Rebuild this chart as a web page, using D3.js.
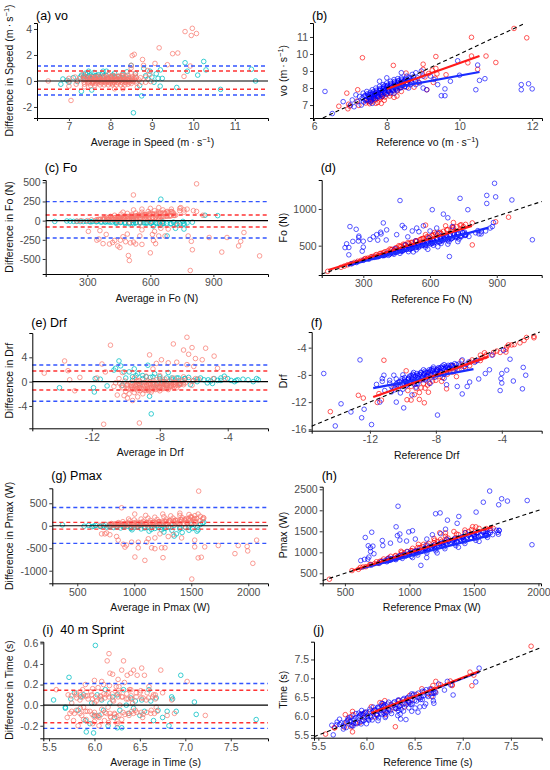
<!DOCTYPE html>
<html>
<head>
<meta charset="utf-8">
<script src="https://cdn.jsdelivr.net/npm/d3@7"></script>
<style>
  body { margin: 0; background: #fff; }
  svg text { font-family: "Liberation Sans", Arial, sans-serif; }
</style>
</head>
<body>
<div id="chart"></div>
<script>
// pairs are [reference, measured]; red = app method, blue = other method
var voRed = [[6.68,6.93],[6.93,6.78],[6.98,6.93],[6.95,7.05],[7.23,6.98],[7.18,7.23],[7.53,7.08],[6.9,7.7],[7.5,7.2],[7.75,7.15],[7.6,7.4],[7.2,7.9],[7.93,7.28],[7.85,7.45],[7.9,7.6],[8.08,7.53],[8.28,7.53],[8.05,7.85],[8.28,7.83],[8.4,7.8],[8.38,8.03],[8.55,8.05],[8.75,8.05],[8.55,8.35],[9.1,7.9],[8.88,8.33],[8.53,8.88],[8.18,9.33],[9.28,8.33],[9.05,8.65],[8.98,8.83],[9.33,8.58],[9.15,8.85],[9.0,9.1],[9.38,8.83],[9.25,9.05],[9.0,9.4],[9.63,8.78],[9.35,9.15],[9.35,9.85],[10.5,9.1],[10.23,9.48],[10.33,9.88],[11.0,9.5],[10.73,9.88],[10.33,10.98],[11.85,10.95],[11.5,11.5],[7.33,9.78],[8.2,8.1],[7.7,7.7],[7.7,7.1],[7.85,7.1],[8.2,7.45],
  [7.42,7.12],[7.48,7.25],[7.56,7.18],[7.62,7.33],[7.68,7.29],[7.74,7.42],[7.81,7.36],[7.88,7.51],[7.95,7.47],[8.02,7.66],[8.11,7.68],[8.18,7.87],[8.26,7.94],[8.35,8.12],[8.44,8.17]];
var voBlue = [[7.05,7.3],[7.1,6.9],[7.15,7.6],[7.2,7.2],[7.25,7.5],[7.3,7.0],[7.35,7.7],[7.4,7.3],[7.45,7.8],[7.5,7.5],[7.55,7.2],[7.6,7.9],[7.6,7.6],[7.65,7.4],[7.7,8.0],[7.7,7.7],[7.75,7.5],[7.8,8.1],[7.8,7.85],[7.85,7.6],[7.9,8.2],[7.9,7.95],[7.95,7.7],[8.0,8.3],[8.0,8.05],[8.05,7.8],[8.1,8.4],[8.1,8.1],[8.15,7.85],[8.2,8.5],[8.2,8.2],[8.25,7.95],[8.3,8.55],[8.3,8.3],[8.35,8.0],[8.4,8.6],[8.45,8.35],[8.5,8.1],[8.55,8.7],[8.6,8.45],[8.65,8.2],[8.7,8.8],[8.75,8.5],[8.8,8.9],[8.85,8.6],[8.9,8.3],[8.95,9.0],[9.0,8.7],[8.0,8.6],[7.8,8.4],[8.4,8.9],[8.2,7.7],[7.6,7.1],[8.6,8.0],
  [7.32,7.41],[7.36,7.18],[7.41,7.57],[7.44,7.33],[7.47,7.66],[7.53,7.42],[7.56,7.61],[7.57,7.27],[7.63,7.78],[7.65,7.52],[7.67,7.63],[7.69,7.38],[7.71,7.87],[7.73,7.58],[7.77,7.74],[7.79,7.47],[7.81,7.97],[7.83,7.69],[7.87,7.86],[7.88,7.52],[7.91,8.08],[7.93,7.81],[7.97,7.93],[7.99,7.63],[8.03,8.17],[8.04,7.88],[8.07,8.04],[8.09,7.72],[8.11,8.27],[8.13,7.98],[8.17,8.13],[8.19,7.83],[8.21,8.38],[8.23,8.09],[8.27,8.22],[8.29,7.88],[8.31,8.43],[8.33,8.18],[8.37,8.33],[8.39,8.02],[8.41,8.52],[8.43,8.27],[8.47,8.43],[8.49,8.07],[8.53,8.57],[8.57,8.31],[8.61,8.62],[8.67,8.37],[8.73,8.66],[8.79,8.42],
  [7.38,7.52],[7.43,7.26],[7.46,7.49],[7.51,7.63],[7.54,7.35],[7.58,7.47],[7.61,7.69],[7.64,7.43],[7.66,7.57],[7.72,7.81],[7.74,7.51],[7.76,7.66],[7.82,7.91],[7.84,7.62],[7.86,7.77],[7.92,8.01],[7.94,7.73],[7.96,7.87],[8.01,8.12],[8.04,7.82],[8.06,7.97],[8.12,8.21],[8.14,7.92],[8.16,8.07],[8.22,8.31],[8.24,8.02],[8.26,8.16],[8.32,8.39],[8.34,8.11],[8.36,8.27],[8.42,8.46],[8.44,8.19],[8.46,8.36],[8.52,8.49],[8.54,8.24],[8.58,8.44],[8.63,8.53],[8.68,8.47],[7.55,7.75],[7.95,8.15],
  [6.3,7.8],[6.5,6.5],[6.8,7.2],[7.0,7.0],[9.5,7.55],[9.6,7.55],[9.6,7.95],[9.75,8.4],[9.95,9.6],[10.0,8.75],[10.45,7.9],[10.5,9.35],[10.55,8.45],[10.7,8.55],[11.7,7.9],[11.7,8.2],[11.9,8.25],[12.0,7.95],[9.4,8.2],[9.2,8.7],[9.0,8.0],[8.8,8.2],[9.1,7.9],[9.3,8.5]];

var foRed = [[140,150],[200,205],[230,240],[260,272],[290,300],[310,325],[340,352],[360,378],[390,405],[410,428],[430,450],[450,470],[470,490],[490,512],[505,530],[520,545],[540,565],[555,582],[570,600],[590,618],[610,640],[625,660],[640,675],[660,695],[680,720],[700,745],[720,760],[740,785],[760,790],[790,510],[895,825],[953,888],[705,815],[670,770],[580,780],[790,810],[620,680],[580,650],[540,560],[500,540],[460,500],[420,455],[380,395],[320,330],[600,620],[650,665],[700,720],[750,760],[480,520],[440,445],[560,590],[520,520],
  [215,222],[245,255],[275,287],[305,318],[335,349],[355,372],[375,393],[398,418],[425,446],[445,469],[465,492],[485,513],[515,544],[535,566],[565,596],[585,620],[615,650],[645,682],[675,715],[705,748],[735,778]];
var foBlue = [[390,370],[413,368],[405,395],[438,383],[435,405],[465,395],[448,433],[475,425],[503,418],[485,455],[510,450],[538,443],[510,490],[548,473],[543,498],[580,480],[573,508],[565,535],[615,505],[610,530],[605,555],[650,530],[645,555],[630,590],[685,555],[665,595],[693,588],[675,625],[730,590],[715,625],[740,620],[720,660],[775,625],[760,660],[755,685],[805,675],[815,705],[525,415],[590,450],[635,485],[680,520],[725,555],[368,353],[343,338],[300,300],[325,315],[248,253],[270,270],[535,565],[490,510],[443,458],[595,605],[635,665],
  [352,340],[372,355],[384,372],[396,366],[408,392],[418,380],[427,409],[436,399],[444,425],[452,414],[459,440],[466,421],[473,452],[481,436],[488,467],[494,448],[502,479],[509,459],[516,492],[522,470],[531,503],[537,482],[545,515],[551,493],[558,528],[566,505],[573,540],[579,515],[586,553],[593,528],[601,566],[608,538],[616,578],[622,552],[630,590],[637,560],[645,603],[652,574],[661,615],[668,585],[676,628],[684,596],[692,641],[701,608],[710,652],[719,622],[728,667],[738,636],[748,680],[760,650],
  [362,345],[388,362],[402,381],[421,391],[433,418],[447,410],[462,437],[474,430],[486,462],[497,452],[507,483],[519,466],[527,498],[539,478],[549,519],[561,498],[569,536],[582,505],[591,556],[603,522],[612,574],[619,540],[633,593],[641,548],[649,604],[657,566],[667,619],[679,580],[688,633],[697,598],[707,646],[716,610],[726,660],[736,625],[746,676],[756,640],[470,445],[530,510],[590,570],[650,630],
  [218,473],[235,475],[225,525],[253,558],[278,563],[300,560],[280,610],[280,630],[365,575],[403,578],[268,723],[240,760],[380,660],[378,683],[450,650],[405,715],[390,810],[485,745],[475,775],[540,740],[570,770],[235,375],[295,425],[300,480],[330,585],[345,620],[360,650],[500,620],[520,700],[550,690],[600,700],[630,740],[700,760],
  [465,1115],[610,990],[680,880],[770,990],[855,1075],[855,1185],[895,1165],[968,1123],[735,1145],[890,1350],[660,930],[1060,580],[687,352],
  [870,740],[850,700],[820,660],[880,760],[760,640],[830,660],[830,690],[885,815]];

var drfRed = [[-14.4,-13.4],[-12.4,-11.4],[-12.7,-11.0],[-11.55,-12.05],[-11.3,-11.7],[-11.45,-10.75],[-9.5,-11.7],[-8.7,-12.1],[-9.0,-11.6],[-9.3,-10.9],[-10.5,-9.9],[-9.0,-10.6],[-8.45,-10.55],[-8.65,-9.95],[-8.75,-9.25],[-7.35,-10.05],[-9.8,-7.4],[-11.15,-5.85],[-7.65,-8.95],[-7.75,-8.25],[-7.8,-7.8],[-6.75,-8.25],[-7.15,-7.45],[-6.7,-7.3],[-6.95,-6.65],[-6.25,-6.75],[-5.95,-6.65],[-5.9,-6.1],[-5.8,-5.8],[-5.3,-5.9],[-5.25,-5.55],[-5.3,-5.1],[-4.95,-5.05],[-4.55,-5.05],[-4.5,-4.7],[-4.1,-4.7],[-3.75,-4.65],[-3.75,-4.25],[-3.7,-3.9],[-3.6,-3.6],[-3.25,-3.55],[-2.9,-3.3],[-2.65,-2.95],[-2.5,-2.5],[-2.05,-2.55],[-2.05,-2.35],[-9.5,-9.7],[-9.35,-9.05],[-8.4,-9.2],[-8.45,-7.95],[-7.9,-7.3],[-6.45,-5.95],[-5.05,-4.75],[-9.75,-11.65],
  [-9.7,-10.3],[-9.2,-10.0],[-8.9,-9.9],[-8.5,-9.5],[-8.2,-8.9],[-8.0,-8.8],[-7.6,-8.4],[-7.3,-7.9],[-7.0,-7.6],[-6.6,-7.2],[-6.3,-6.8],[-5.6,-6.0],[-5.0,-5.3],[-4.3,-4.5],[-3.4,-3.6]];
var drfBlue = [[-10.7,-9.7],[-10.8,-9.2],[-10.15,-9.65],[-10.8,-8.8],[-10.3,-9.1],[-9.75,-9.45],[-10.4,-8.6],[-9.85,-8.95],[-10.05,-8.55],[-9.1,-9.3],[-9.65,-8.55],[-10.0,-8.0],[-9.2,-8.6],[-9.5,-8.1],[-8.65,-8.75],[-9.1,-8.1],[-9.35,-7.65],[-8.6,-8.2],[-8.9,-7.7],[-8.05,-8.35],[-8.5,-7.7],[-8.75,-7.25],[-8.05,-7.75],[-8.3,-7.3],[-7.5,-7.9],[-7.9,-7.3],[-8.15,-6.85],[-7.35,-7.45],[-7.7,-6.9],[-6.9,-7.5],[-7.3,-6.9],[-7.5,-6.5],[-6.8,-7.0],[-7.05,-6.55],[-6.2,-7.0],[-6.6,-6.4],[-6.15,-6.45],[-6.4,-5.8],[-5.65,-6.15],[-10.15,-10.65],[-10.7,-10.5],[-9.2,-9.8],[-8.35,-9.25],[-7.5,-8.5],[-11.25,-8.95],[-10.55,-8.05],
  [-10.4,-9.3],[-10.25,-9.6],[-10.1,-8.9],[-9.95,-9.2],[-9.9,-8.4],[-9.8,-9.05],[-9.7,-8.7],[-9.6,-8.2],[-9.55,-9.0],[-9.45,-8.4],[-9.4,-7.9],[-9.3,-8.75],[-9.25,-8.2],[-9.15,-7.8],[-9.05,-8.5],[-8.95,-8.0],[-8.9,-7.6],[-8.8,-8.3],[-8.7,-7.8],[-8.65,-7.45],[-8.55,-8.1],[-8.45,-7.6],[-8.4,-7.25],[-8.3,-7.95],[-8.2,-7.4],[-8.15,-7.1],[-8.0,-7.7],[-7.95,-7.2],[-7.85,-6.95],[-7.75,-7.45],[-7.65,-7.0],[-7.6,-6.7],[-7.45,-7.2],[-7.4,-6.75],[-7.25,-6.6],[-7.15,-7.0],[-7.0,-6.65],[-6.85,-6.35],[-9.6,-9.1],[-9.0,-8.85],[-8.6,-8.55],[-8.1,-8.05],[-7.7,-7.75],[-10.6,-9.9],[-10.0,-10.1],[-9.2,-9.3],
  [-10.35,-9.45],[-10.2,-9.0],[-10.05,-9.35],[-9.9,-8.75],[-9.75,-9.15],[-9.65,-8.45],[-9.5,-8.85],[-9.35,-8.05],[-9.25,-8.95],[-9.1,-8.35],[-9.0,-7.9],[-8.85,-8.45],[-8.75,-7.95],[-8.6,-7.65],[-8.5,-8.3],[-8.35,-7.55],[-8.25,-7.15],[-8.1,-7.85],[-7.95,-7.45],[-7.8,-7.05],[-7.7,-7.6],[-7.55,-7.05],[-7.4,-6.95],[-7.25,-7.1],[-7.1,-6.6],[-6.95,-6.85],[-6.75,-6.5],[-6.55,-6.7],[-9.8,-9.6],[-9.3,-9.4],[-8.8,-8.7],[-8.3,-8.45],[-7.85,-7.9],[-10.5,-10.2],
  [-14.1,-15.5],[-11.9,-15.3],[-12.5,-14.3],[-13.15,-13.45],[-12.35,-13.05],[-13.75,-12.25],[-11.4,-12.0],[-9.95,-12.85],[-10.4,-12.0],[-7.9,-13.9],[-11.1,-10.3],[-11.6,-9.4],[-9.45,-10.95],[-11.25,-8.55],[-11.15,-8.05],[-12.6,-5.8],[-14.8,-7.8],[-6.4,-10.8],[-6.7,-9.7],[-6.1,-9.7],[-5.95,-9.05],[-4.1,-10.3],[-5.4,-8.6],[-4.0,-9.2],[-2.75,-10.05],[-4.05,-8.55],[-3.3,-8.9],[-4.0,-7.8],[-3.7,-7.3],[-2.55,-8.05],[-2.7,-6.9],[-3.5,-5.7],[-5.0,-7.8],[-7.35,-9.45],[-4.75,-7.25],[-3.9,-4.4],[-4.6,-5.1],[-5.5,-5.9],[-6.0,-6.1]];

var pmaxRed = [[380,360],[555,565],[605,595],[620,640],[663,658],[693,708],[730,730],[745,775],[785,795],[800,840],[840,860],[855,905],[895,925],[935,945],[940,1000],[980,1020],[1020,1040],[1025,1095],[1065,1115],[1105,1135],[1110,1190],[1150,1210],[1190,1230],[1195,1285],[1240,1300],[1285,1315],[1280,1380],[1235,1465],[1280,1460],[1365,1435],[1345,1495],[1430,1470],[1430,1530],[1480,1540],[1490,1610],[1515,1605],[1595,1565],[1630,1570],[1650,1570],[1510,1490],[1355,1345],[1200,1200],[1055,1045],[908,893],[760,740],[1070,1190],[935,1025],[1190,1330],
  [640,650],[700,712],[770,785],[830,848],[890,912],[960,985],[1010,1038],[1080,1110],[1140,1172],[1220,1255],[1300,1338],[1380,1420],[1460,1495],[1540,1570],[1250,1260]];
var pmaxBlue = [[705,695],[765,735],[783,778],[825,775],[840,820],[895,825],[898,863],[945,855],[925,915],[970,910],[1015,905],[1000,960],[1065,935],[1060,980],[1050,1030],[1135,985],[1130,1030],[1125,1075],[1205,1035],[1200,1080],[1195,1125],[1275,1085],[1270,1130],[1265,1175],[1255,1225],[1360,1160],[1355,1205],[1350,1250],[1430,1210],[1425,1255],[1420,1300],[1410,1350],[1515,1285],[1510,1330],[1505,1375],[1500,1420],[1605,1355],[1600,1400],[1595,1445],[1590,1490],[1690,1430],[1685,1475],[1675,1525],[1695,1525],[985,1015],[1130,1170],[1290,1310],[840,860],[1435,1465],[1215,985],[1025,875],[1380,1120],[1540,1260],
  [805,790],[830,795],[855,815],[870,850],[890,840],[915,880],[935,890],[955,935],[975,920],[995,955],[1010,990],[1030,965],[1050,1000],[1070,1040],[1090,1020],[1110,1065],[1125,1100],[1145,1075],[1165,1110],[1180,1150],[1200,1125],[1220,1160],[1240,1205],[1260,1170],[1280,1215],[1300,1260],[1315,1220],[1335,1270],[1355,1320],[1370,1260],[1390,1310],[1410,1370],[1425,1300],[1445,1355],[1465,1420],[1480,1340],[1500,1395],[1520,1460],[1535,1375],[1555,1425],[1575,1500],[1590,1395],[1610,1450],[1630,1520],[1645,1420],
  [820,805],[848,812],[862,840],[882,852],[905,870],[922,908],[944,902],[962,940],[983,935],[1002,982],[1022,970],[1040,1020],[1061,1005],[1080,1055],[1100,1040],[1118,1090],[1137,1070],[1155,1130],[1175,1100],[1192,1170],[1212,1135],[1232,1200],[1250,1165],[1270,1240],[1290,1195],[1308,1275],[1328,1230],[1345,1310],[1365,1250],[1385,1345],[1402,1290],[1420,1375],[1440,1320],[1458,1405],[1478,1355],[1495,1440],[1515,1380],[1532,1470],[1552,1400],[1570,1480],
  [1089,689],[1950,1180],[1134,874],[912,2097],[1622,2458],[1913,2233],[1760,2220],[1715,2275],[1573,2193],[1692,2132],[1517,1957],[1295,1765],[1383,1853],[1370,1690],[1238,1938],[1203,1918],[897,1607],[708,1478],[658,1353],[907,1397],[926,1436],[995,1485],[1024,1514],[790,1280],[853,1218],[717,1147],[698,1108],[681,1156],[794,1159],[699,1019],[686,886],[725,965],[677,837],[652,832],[623,803],[926,1291],[978,1268],[1178,1418],[1242,1442],[1046,1316],[1280,1550],[1135,1315],[1594,1414],[1628,1468],[1696,1516]];

var timeRed = [[5.575,5.525],[5.665,5.695],[5.67,5.69],[5.855,5.585],[5.77,5.71],[5.84,5.72],[5.795,5.845],[5.89,5.81],[5.93,5.83],[5.825,5.975],[5.78,6.04],[5.86,6.04],[5.98,5.96],[5.855,6.125],[6.3,5.72],[6.08,5.98],[6.0,6.1],[6.105,6.055],[6.075,6.125],[6.195,6.045],[6.05,6.25],[6.18,6.16],[6.24,6.16],[6.16,6.28],[6.3,6.2],[6.255,6.305],[6.19,6.41],[6.395,6.245],[6.35,6.35],[6.34,6.42],[6.435,6.365],[6.415,6.445],[6.47,6.43],[6.45,6.55],[6.545,6.495],[6.52,6.58],[6.675,6.525],[6.64,6.6],[6.575,6.725],[6.715,6.645],[6.675,6.725],[6.69,6.81],[6.77,6.83],[6.72,6.92],[6.89,6.81],[6.89,6.83],[6.87,6.93],[7.095,6.805],[7.115,7.085],[7.075,7.165],[7.71,7.85],[5.95,6.05],[6.14,6.36]];
var timeBlue = [[5.655,5.505],[5.64,5.76],[5.69,5.77],[5.76,5.74],[5.695,5.845],[5.775,5.825],[5.85,5.75],[5.72,5.92],[5.865,5.815],[5.81,5.91],[5.945,5.795],[5.87,5.89],[6.0,5.8],[5.84,5.98],[5.96,5.9],[5.92,5.98],[6.025,5.895],[5.89,6.07],[6.12,5.88],[6.01,5.99],[5.97,6.07],[6.125,5.955],[5.95,6.15],[6.11,6.03],[6.06,6.1],[6.2,6.0],[6.035,6.185],[6.18,6.08],[6.355,5.925],[6.14,6.16],[6.41,5.91],[6.325,6.015],[6.12,6.24],[6.35,6.05],[6.225,6.175],[6.18,6.26],[6.33,6.15],[6.16,6.34],[6.33,6.21],[6.28,6.28],[6.47,6.13],[6.23,6.37],[6.535,6.105],[6.44,6.22],[6.38,6.32],[6.505,6.215],[6.33,6.43],[6.555,6.245],[6.475,6.325],[6.43,6.41],[6.6,6.26],[6.425,6.475],[6.615,6.325],[6.56,6.44],[6.7,6.34],[6.47,6.59],[6.695,6.405],[6.595,6.545],[6.69,6.51],[6.58,6.66],[6.7,6.6],[6.67,6.69],[6.9,6.56],[6.81,6.69],[6.75,6.85],[6.875,6.825],[6.84,6.92],[7.135,6.905],[7.17,7.27],[5.965,6.035],[6.195,5.965],[6.385,6.135],
  [5.74,5.82],[5.79,5.7],[5.83,5.86],[5.86,5.74],[5.89,5.95],[5.91,5.83],[5.94,6.05],[5.97,5.88],[5.99,6.11],[6.02,5.92],[6.04,6.0],[6.06,5.9],[6.09,6.17],[6.11,6.02],[6.13,6.21],[6.16,6.05],[6.19,6.3],[6.21,6.1],[6.23,6.19],[6.26,6.07],[6.29,6.38],[6.31,6.2],[6.34,6.26],[6.36,6.18],[6.39,6.47],[6.41,6.3],[6.44,6.38],[6.46,6.31],[6.49,6.58],[6.52,6.4],[6.55,6.48],[6.58,6.44],[6.62,6.7],[6.64,6.52],[6.68,6.6],[6.72,6.62],[5.81,5.95],[5.92,6.08],[6.07,6.24],[6.17,6.33],
  [5.72,5.78],[5.76,5.66],[5.8,5.88],[5.84,5.77],[5.87,5.93],[5.9,5.8],[5.93,6.02],[5.95,5.86],[5.98,6.09],[6.01,5.95],[6.03,6.12],[6.05,5.97],[6.08,6.15],[6.1,6.04],[6.12,6.23],[6.15,6.08],[6.18,6.27],[6.2,6.12],[6.22,6.32],[6.25,6.14],[6.28,6.35],[6.3,6.22],[6.33,6.41],[6.35,6.27],[6.38,6.44],[6.4,6.34],[6.43,6.5],[6.45,6.36],[6.48,6.55],[6.5,6.42],[6.54,6.61],[6.57,6.5],[6.6,6.65],[6.63,6.56],[6.66,6.72],[6.7,6.64]];

// limits of agreement [upper, lower]
var voLoaBlue = [1.15, -1.08], voLoaRed = [0.77, -0.64];
var foLoaBlue = [248, -226], foLoaRed = [74, -83];
var drfLoaBlue = [2.74, -3.23], drfLoaRed = [1.75, -1.37];
var pmaxLoaBlue = [407, -393], pmaxLoaRed = [74, -74];
var timeLoaBlue = [0.21, -0.226], timeLoaRed = [0.145, -0.171];

// fitted lines [start, end]
var voFitRed = [[8.0, 7.94], [10.55, 9.88]], voFitBlue = [[8.0, 7.95], [10.55, 8.94]];
var foFitRed = [[143, 168], [788, 769]], foFitBlue = [[230, 228], [863, 745]];
var drfFitRed = [[-11.8, -11.26], [-4.8, -5.32]], drfFitBlue = [[-11.8, -9.94], [-5.72, -7.16]];
var pmaxFitRed = [[560, 565], [1641, 1602]], pmaxFitBlue = [[620, 608], [1630, 1405]];
var timeFitRed = [[6.05, 6.08], [7.17, 7.19]], timeFitBlue = [[6.05, 6.07], [7.17, 7.17]];

// tick labels
var speedAvgTicks = [7, 8, 9, 10, 11], speedDiffTicks = [-2, 0, 2, 4];
var voRefTicks = [6, 8, 10, 12], voTicks = [7, 8, 9, 10, 11];
var foAvgTicks = [300, 600, 900], foDiffTicks = [-500, -250, 0, 250, 500];
var foRefTicks = [300, 600, 900], foTicks = [500, 1000];
var drfAvgTicks = [-12, -8, -4], drfDiffTicks = [-4, 0, 4];
var drfRefTicks = [-12, -8, -4], drfTicks = [-16, -12, -8, -4];
var pmaxAvgTicks = [500, 1000, 1500, 2000], pmaxDiffTicks = [-1000, -500, 0, 500];
var pmaxRefTicks = [500, 1000, 1500, 2000], pmaxTicks = [500, 1000, 1500, 2000, 2500];
var timeAvgTicks = [5.5, 6.0, 6.5, 7.0, 7.5], timeDiffTicks = [-0.2, 0.0, 0.2, 0.4, 0.6];
var timeRefTicks = [5.5, 6.0, 6.5, 7.0, 7.5], timeTicks = [5.5, 6.0, 6.5, 7.0, 7.5];

var w = 550, h = 770;
var salmon = "#F8766D", cyan = "#00BFC4";
var ms = "m\u2009\u00B7\u2009s";
var int = function (d) { return String(d); };
var dec1 = function (d) { return d.toFixed(1); };

var svg = d3.select("#chart")
  .append("svg")
  .attr("width", w)
  .attr("height", h);

// box = [left, right, top, bottom]
var panels = [
  { kind: "ba", tag: "(a) vo", tagY: 19.5, box: [37, 268, 23, 118], xd: [6.23, 11.8], yd: [-2.85, 4.46],
    red: voRed, blue: voBlue, loaRed: voLoaRed, loaBlue: voLoaBlue, xt: speedAvgTicks, yt: speedDiffTicks,
    xlab: ["Average in Speed (" + ms, { sup: "\u22121" }, ")"], ylab: ["Difference in Speed (" + ms, { sup: "\u22121" }, ")"] },
  { kind: "sc", tag: "(b)", tagY: 19.5, box: [313, 542, 23, 118], xd: [5.97, 12.27], yd: [6.24, 11.82],
    red: voRed, blue: voBlue, fitRed: voFitRed, fitBlue: voFitBlue, xt: voRefTicks, yt: voTicks,
    xlab: ["Reference vo (" + ms, { sup: "\u22121" }, ")"], ylab: ["vo (" + ms, { sup: "\u22121" }, ")"] },
  { kind: "ba", tag: "(c) Fo", tagY: 171.5, box: [45.7, 268, 180, 274], xd: [102, 1160], yd: [-696, 530],
    red: foRed, blue: foBlue, loaRed: foLoaRed, loaBlue: foLoaBlue, xt: foAvgTicks, yt: foDiffTicks,
    xlab: ["Average in Fo (N)"], ylab: ["Difference in Fo (N)"] },
  { kind: "sc", tag: "(d)", tagY: 171.5, box: [321.7, 541.7, 180, 275], xd: [113, 1102], yd: [100, 1395],
    red: foRed, blue: foBlue, fitRed: foFitRed, fitBlue: foFitBlue, xt: foRefTicks, yt: foTicks,
    xlab: ["Reference Fo (N)"], ylab: ["Fo (N)"] },
  { kind: "ba", tag: "(e) Drf", tagY: 326.5, box: [32.3, 268, 333, 428.3], xd: [-15.5, -1.63], yd: [-7.67, 8.0],
    red: drfRed, blue: drfBlue, loaRed: drfLoaRed, loaBlue: drfLoaBlue, xt: drfAvgTicks, yt: drfDiffTicks,
    xlab: ["Average in Drf"], ylab: ["Difference in Drf"] },
  { kind: "sc", tag: "(f)", tagY: 326.5, box: [311.7, 541.7, 332, 430.7], xd: [-15.53, -1.58], yd: [-16.2, -1.7],
    red: drfRed, blue: drfBlue, fitRed: drfFitRed, fitBlue: drfFitBlue, xt: drfRefTicks, yt: drfTicks,
    xlab: ["Reference Drf"], ylab: ["Drf"] },
  { kind: "ba", tag: "(g) Pmax", tagY: 479.5, box: [52.3, 268, 488.3, 583.3], xd: [281, 2173], yd: [-1280, 833],
    red: pmaxRed, blue: pmaxBlue, loaRed: pmaxLoaRed, loaBlue: pmaxLoaBlue, xt: pmaxAvgTicks, yt: pmaxDiffTicks,
    xlab: ["Average in Pmax (W)"], ylab: ["Difference in Pmax (W)"] },
  { kind: "sc", tag: "(h)", tagY: 479.5, box: [322.7, 541, 486.7, 583.3], xd: [328, 2020], yd: [262, 2562],
    red: pmaxRed, blue: pmaxBlue, fitRed: pmaxFitRed, fitBlue: pmaxFitBlue, xt: pmaxRefTicks, yt: pmaxTicks,
    xlab: ["Reference Pmax (W)"], ylab: ["Pmax (W)"] },
  { kind: "ba", tag: "(i)\u00A0 40 m Sprint", tagY: 633.5, box: [43.3, 268, 641.7, 738.3], xd: [5.437, 7.91], yd: [-0.322, 0.616],
    red: timeRed, blue: timeBlue, loaRed: timeLoaRed, loaBlue: timeLoaBlue, xt: timeAvgTicks, yt: timeDiffTicks, fmt: dec1,
    xlab: ["Average in Time (s)"], ylab: ["Difference in Time (s)"] },
  { kind: "sc", tag: "(j)", tagY: 633.5, box: [314, 541.7, 641.7, 737.7], xd: [5.455, 7.82], yd: [5.43, 7.97],
    red: timeRed, blue: timeBlue, fitRed: timeFitRed, fitBlue: timeFitBlue, xt: timeRefTicks, yt: timeTicks, fmt: dec1,
    xlab: ["Reference Time (s)"], ylab: ["Time (s)"] }
];

// Bland-Altman: [mean of the two, reference minus measured]
function toBA(d) {
  return [(d[0] + d[1]) / 2, d[0] - d[1]];
}

function dots(g, data, x, y, color, op) {
  g.append("g").selectAll("circle")
    .data(data)
    .enter().append("circle")
    .attr("cx", function (d) { return x(d[0]); })
    .attr("cy", function (d) { return y(d[1]); })
    .attr("r", 2.3)
    .attr("fill", "none")
    .attr("stroke", color)
    .attr("stroke-opacity", op)
    .attr("stroke-width", 0.9);
}

function seg(g, a, b, x, y, color, width, dash) {
  g.append("line")
    .attr("x1", x(a[0])).attr("y1", y(a[1]))
    .attr("x2", x(b[0])).attr("y2", y(b[1]))
    .attr("stroke", color)
    .attr("stroke-width", width)
    .attr("stroke-dasharray", dash || null);
}

// text with an optional superscript part
function rich(sel, parts) {
  var shift = 0;
  parts.forEach(function (p) {
    if (typeof p === "string") {
      sel.append("tspan").attr("dy", shift || null).text(p);
      shift = 0;
    } else {
      sel.append("tspan").attr("dy", -4).attr("font-size", 7.5).text(p.sup);
      shift = 4;
    }
  });
}

function axes(g, p, x, y) {
  var fmt = p.fmt || int;
  var ax = g.append("g")
    .attr("transform", "translate(0," + p.box[3] + ")")
    .call(d3.axisBottom(x).tickValues(p.xt).tickFormat(fmt).tickSizeOuter(0).tickSize(3).tickPadding(2));
  var ay = g.append("g")
    .attr("transform", "translate(" + p.box[0] + ",0)")
    .call(d3.axisLeft(y).tickValues(p.yt).tickFormat(fmt).tickSizeOuter(0).tickSize(3).tickPadding(2));
  [ax, ay].forEach(function (a) {
    a.attr("font-family", null).attr("font-size", null);
    a.select(".domain").attr("stroke", "#000").attr("stroke-width", 1);
    a.selectAll(".tick line").attr("stroke", "#333");
    a.selectAll(".tick text").attr("fill", "#4d4d4d").attr("font-size", 10.5);
  });

  var cx = (p.box[0] + p.box[1]) / 2, cy = (p.box[2] + p.box[3]) / 2;
  var tx = g.append("text")
    .attr("x", cx).attr("y", p.box[3] + 28)
    .attr("text-anchor", "middle")
    .attr("font-size", 10.5)
    .attr("fill", "#111");
  rich(tx, p.xlab);

  var yx = p.box[0] < 275 ? 13 : 287;
  var ty = g.append("text")
    .attr("transform", "translate(" + yx + "," + cy + ") rotate(-90)")
    .attr("text-anchor", "middle")
    .attr("font-size", 10.5)
    .attr("fill", "#111");
  rich(ty, p.ylab);

  g.append("text")
    .attr("x", p.box[0] - 1).attr("y", p.tagY)
    .attr("font-size", 12.5)
    .attr("fill", "#000")
    .text(p.tag);
}

panels.forEach(function (p) {
  var x = d3.scaleLinear().domain(p.xd).range([p.box[0], p.box[1]]);
  var y = d3.scaleLinear().domain(p.yd).range([p.box[3], p.box[2]]);
  var g = svg.append("g");

  if (p.kind === "ba") {
    dots(g, p.red.map(toBA), x, y, cyan, 0.85);
    dots(g, p.blue.map(toBA), x, y, salmon, 0.8);
    var xs = p.xd;
    p.loaBlue.forEach(function (v) { seg(g, [xs[0], v], [xs[1], v], x, y, "#3355ff", 1.4, "4,3"); });
    p.loaRed.forEach(function (v) { seg(g, [xs[0], v], [xs[1], v], x, y, "#ff3333", 1.4, "4,3"); });
    seg(g, [xs[0], 0], [xs[1], 0], x, y, "#000", 1.1);
  } else {
    dots(g, p.red, x, y, "red", 0.72);
    dots(g, p.blue, x, y, "blue", 0.72);
    seg(g, p.fitBlue[0], p.fitBlue[1], x, y, "#1a2cff", 2.2);
    seg(g, p.fitRed[0], p.fitRed[1], x, y, "#ff1a1a", 2.2);
    // identity line clipped to the panel
    var lo = Math.max(p.xd[0], p.yd[0]), hi = Math.min(p.xd[1], p.yd[1]);
    seg(g, [lo, lo], [hi, hi], x, y, "#000", 1.1, "4,3");
  }

  axes(g, p, x, y);
});
</script>
</body>
</html>
